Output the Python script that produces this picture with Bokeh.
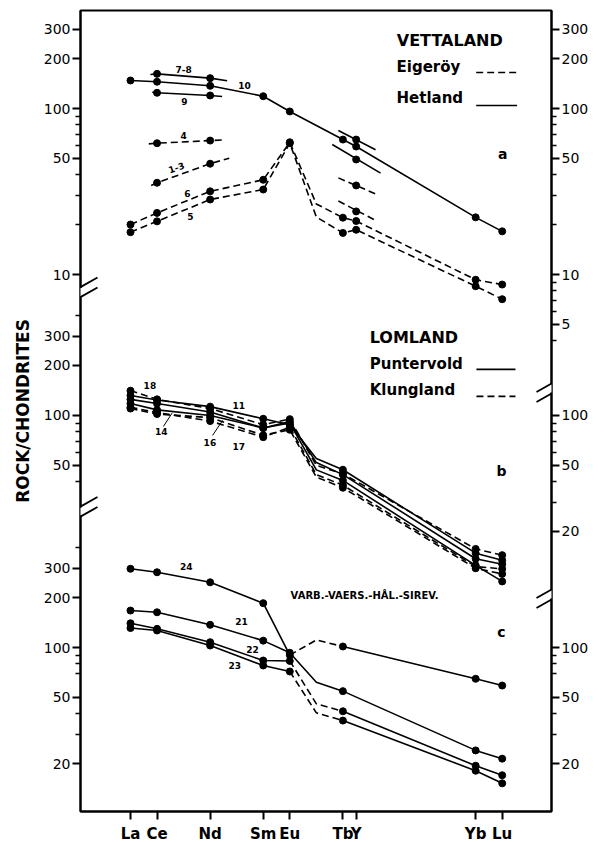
import math
from bokeh.plotting import figure
from bokeh.models import LinearAxis, FixedTicker, Range1d, Arrow
from bokeh.core.properties import value
from bokeh.embed import file_html
from bokeh.resources import INLINE

# ---------------- data ----------------
ELEMENTS = ["La", "Ce", "Nd", "Sm", "Eu", "Gd", "Tb", "Y", "Yb", "Lu"]
ELEMENT_X = [57, 58, 60, 62, 63, 64, 65, 65.5, 70, 71]
AXIS_ELEMENTS = ["La", "Ce", "Nd", "Sm", "Eu", "Tb", "Y", "Yb", "Lu"]

# vertical offset of each panel on the common log axis (decades)
PANEL_SHIFT = {"a": 0.0, "b": 1.849, "c": 3.247}

# Panel a  - VETTALAND (Hetland solid, Eigeroy dashed)
a_10 = [147.5, 145, 137, 118.6, 96, None, 65, 59, 22.1, 18.2]
a_6 = [20.0, 23.5, 31.7, 37.2, 62.6, 26.6, 22.0, 21.0, 9.3, 8.7]
a_5 = [18.0, 20.9, 28.3, 32.5, 61.8, 22.2, 17.8, 18.6, 8.5, 7.1]
# partial analyses: Ce, Nd values, ends of their short trend lines, Y value and its trend ends
a_78_ce_nd = [161.7, 152.4]
a_78_lree_ends = [160.3, 146.9]
a_78_y = 65.0
a_78_hree_ends = [73.7, 56.4]
a_9_ce_nd = [124.4, 119.8]
a_9_lree_ends = [125.4, 118.1]
a_9_y = 49.3
a_9_hree_ends = [60.7, 40.8]
a_4_ce_nd = [61.8, 64.1]
a_4_lree_ends = [61.2, 64.7]
a_4_y = 34.4
a_4_hree_ends = [38.2, 30.4]
a_13_ce_nd = [35.7, 46.5]
a_13_lree_ends = [34.4, 50.2]
a_13_y = 24.0
a_13_hree_ends = [27.7, 21.2]

# Panel b - LOMLAND (Puntervold solid, Klungland dashed)
b_18 = [141, 125, 110, 88, 95, 50, 44.5, None, 15.7, 14.4]
b_11 = [132, 124, 113, 95.5, 88, 55, 47.1, None, 14.8, 13.4]
b_12 = [125, 118, 105, 84, 92, 52, 44.0, None, 13.7, 12.7]
b_14 = [118, 108, 100, 84, 90, 47, 40.6, None, 12.5, 10.0]
b_16 = [112, 104, 92.5, 74, 85, 44, 38.0, None, 12.3, 11.9]
b_17 = [110, 102, 97, 76, 82, 42.5, 36.7, None, 12.0, 11.1]

# Panel c - VARB.-VAERS.-HAL.-SIREV.
c_24 = [298, 284, 247, 185, 90, 111, 101.4, None, 64.8, 59]
c_21 = [167, 163, 137, 110, 93, 61.8, 54.6, None, 24, 21.4]
c_22 = [140, 129.6, 107.6, 83.5, 83, 45.8, 41.3, None, 19.4, 17.0]
c_23 = [131, 126.6, 102.8, 77.9, 71.7, 40.4, 36.3, None, 18.1, 15.2]

# axis ticks per panel
LEFT_MAJOR = {"a": [300, 200, 100, 50, 10], "b": [300, 200, 100, 50], "c": [300, 200, 100, 50, 20]}
LEFT_MINOR = {"a": [90, 80, 70, 60, 40, 30, 20], "b": [400, 90, 80, 70, 60, 40], "c": [400, 90, 80, 70, 40, 30]}
RIGHT_MAJOR = {"a": [300, 200, 100, 50, 10, 5], "b": [100, 50, 20], "c": [100, 50, 20]}
RIGHT_MINOR = {"a": [90, 80, 70, 60, 40, 30, 20, 9, 8, 7, 6, 4], "b": [90, 80, 70, 60, 40, 30], "c": [90, 80, 70, 40, 30]}

# ---------------- helpers ----------------
PX_X = 26.55   # px per atomic-number unit
PX_U = 166.0   # px per decade


def U(v, panel):
    return round(math.log10(v) - PANEL_SHIFT[panel], 6)


def XE(name):
    return ELEMENT_X[ELEMENTS.index(name)]


FONT = value("DejaVu Sans")
DASH = "7 4"

p = figure(frame_width=471, frame_height=801,
           x_range=Range1d(55.117, 72.857), y_range=Range1d(-2.2349, 2.5904),
           x_axis_type=None, y_axis_type=None,
           output_backend="svg", toolbar_location=None,
           min_border_left=80, min_border_right=45, min_border_top=10, min_border_bottom=30,
           background_fill_color="white", border_fill_color="white")
p.outline_line_color = "black"
p.outline_line_width = 2


def style_axis(ax, size="14px", bold=False):
    ax.axis_line_width = 2
    ax.major_tick_line_width = 2
    ax.minor_tick_line_width = 1.5
    ax.major_tick_out = 8
    ax.major_tick_in = 0
    ax.minor_tick_out = 5
    ax.minor_tick_in = 0
    ax.major_label_text_font = "DejaVu Sans"
    ax.major_label_text_font_size = size
    ax.major_label_text_color = "black"
    ax.major_label_text_font_style = "bold" if bold else "normal"
    ax.major_label_standoff = 2


def y_axis(major, minor):
    ticks, labels, mins = [], {}, []
    for panel, vals in major.items():
        for v in vals:
            t = U(v, panel)
            ticks.append(t)
            labels[t] = str(v)
    for panel, vals in minor.items():
        for v in vals:
            mins.append(U(v, panel))
    ax = LinearAxis(ticker=FixedTicker(ticks=ticks, minor_ticks=mins), major_label_overrides=labels)
    style_axis(ax)
    return ax


left = y_axis(LEFT_MAJOR, LEFT_MINOR)
left.axis_label = "ROCK/CHONDRITES"
left.axis_label_text_font = "DejaVu Sans"
left.axis_label_text_font_size = "17px"
left.axis_label_text_font_style = "bold"
left.axis_label_text_color = "black"
left.axis_label_standoff = 8
p.add_layout(left, "left")
right = y_axis(RIGHT_MAJOR, RIGHT_MINOR)
p.add_layout(right, "right")

bx = [float(XE(e)) for e in AXIS_ELEMENTS]
bottom = LinearAxis(ticker=FixedTicker(ticks=bx, minor_ticks=[]),
                    major_label_overrides={x: e for x, e in zip(bx, AXIS_ELEMENTS)})
style_axis(bottom, size="15px", bold=True)
bottom.major_label_standoff = 5
p.add_layout(bottom, "below")


def draw_series(vals, panel, dashed, mid_dashed=None):
    pts = [(x, U(v, panel), e) for x, v, e in zip(ELEMENT_X, vals, ELEMENTS) if v is not None]
    mid = {"Eu", "Gd", "Tb"}
    segs = []
    for (x0, y0, e0), (x1, y1, e1) in zip(pts[:-1], pts[1:]):
        if mid_dashed is not None and e0 in mid and e1 in mid:
            d = mid_dashed
        else:
            d = dashed
        if segs and segs[-1][0] == d:
            segs[-1][1].append(x1)
            segs[-1][2].append(y1)
        else:
            segs.append([d, [x0, x1], [y0, y1]])
    for d, xs, ys in segs:
        p.line(xs, ys, line_color="black", line_width=1.6, line_dash=DASH if d else "solid")
    mk = [(x, y) for x, y, e in pts if e != "Gd"]
    p.scatter([m[0] for m in mk], [m[1] for m in mk], size=7, color="black")


def draw_partial(ce_nd, lree_ends, yv, hree_ends, panel, dashed, lree_x_ends, hree_x_ends):
    dash = DASH if dashed else "solid"
    xs = [lree_x_ends[0], XE("Ce"), XE("Nd"), lree_x_ends[1]]
    vs = [lree_ends[0], ce_nd[0], ce_nd[1], lree_ends[1]]
    p.line(xs, [U(v, panel) for v in vs], line_color="black", line_width=1.6, line_dash=dash)
    p.line(hree_x_ends, [U(v, panel) for v in hree_ends], line_color="black", line_width=1.6, line_dash=dash)
    p.scatter([XE("Ce"), XE("Nd"), XE("Y")], [U(ce_nd[0], panel), U(ce_nd[1], panel), U(yv, panel)],
              size=7, color="black")


# panel a
draw_series(a_10, "a", False)
draw_series(a_6, "a", True)
draw_series(a_5, "a", True)
draw_partial(a_78_ce_nd, a_78_lree_ends, a_78_y, a_78_hree_ends, "a", False, [57.75, 60.64], [64.83, 66.23])
draw_partial(a_9_ce_nd, a_9_lree_ends, a_9_y, a_9_hree_ends, "a", False, [57.82, 60.45], [64.60, 66.42])
draw_partial(a_4_ce_nd, a_4_lree_ends, a_4_y, a_4_hree_ends, "a", True, [57.69, 60.54], [64.83, 66.27])
draw_partial(a_13_ce_nd, a_13_lree_ends, a_13_y, a_13_hree_ends, "a", True, [57.78, 60.72], [64.83, 66.23])

# panel b
draw_series(b_18, "b", True)
draw_series(b_11, "b", False)
draw_series(b_12, "b", False)
draw_series(b_14, "b", False)
draw_series(b_16, "b", True)
draw_series(b_17, "b", True)

# panel c
draw_series(c_24, "c", False, mid_dashed=True)
draw_series(c_21, "c", False, mid_dashed=False)
draw_series(c_22, "c", False, mid_dashed=True)
draw_series(c_23, "c", False, mid_dashed=True)


def txt(x, v, panel, s, size="9px", bold=True, align="center", angle=0.0):
    p.text(x=[x], y=[U(v, panel)], text=[s], text_font=FONT, text_font_size=size,
           text_font_style="bold" if bold else "normal", text_align=align,
           text_baseline="middle", text_color="black", angle=angle)


# sample numbers
txt(59.0, 171.7, "a", "7-8")
txt(61.29, 137.6, "a", "10")
txt(59.03, 110.6, "a", "9")
txt(59.0, 68.7, "a", "4")
txt(58.73, 44.1, "a", "1-3", angle=0.33)
txt(59.14, 30.9, "a", "6")
txt(59.26, 22.4, "a", "5")
txt(57.73, 151.6, "b", "18")
txt(61.08, 114.9, "b", "11")
txt(58.16, 80.1, "b", "14")
txt(59.99, 69.1, "b", "16")
txt(61.08, 65.0, "b", "17")
txt(59.1, 307, "c", "24")
txt(61.18, 143, "c", "21")
txt(61.6, 96.9, "c", "22")
txt(60.93, 77.9, "c", "23")
# leader lines for 14 and 16
p.segment(x0=[58.24, 60.09], y0=[U(85.8, "b"), U(75.8, "b")], x1=[58.57, 60.47], y1=[U(103.5, "b"), U(93.3, "b")],
          line_color="black", line_width=1)

# panel letters
txt(71.02, 53.3, "a", "a", size="14px")
txt(70.97, 46.2, "b", "b", size="14px")
txt(70.97, 123.7, "c", "c", size="14px")

# group titles / legends
txt(67.03, 256.9, "a", "VETTALAND", size="16px", align="left")
txt(67.02, 177.3, "a", "Eigeröy", size="15px", align="left")
txt(67.02, 114.9, "a", "Hetland", size="15px", align="left")
p.line([70.02, 71.56], [U(164.9, "a")] * 2, line_color="black", line_width=1.6, line_dash=DASH)
p.line([70.02, 71.56], [U(104.3, "a")] * 2, line_color="black", line_width=1.6)
txt(66.01, 294, "b", "LOMLAND", size="16px", align="left")
txt(66.01, 204.6, "b", "Puntervold", size="15px", align="left")
txt(66.01, 141.4, "b", "Klungland", size="15px", align="left")
p.line([70.03, 71.5], [U(189.4, "b")] * 2, line_color="black", line_width=1.6)
p.line([70.03, 71.5], [U(130.2, "b")] * 2, line_color="black", line_width=1.6, line_dash=DASH)
txt(63.03, 205.7, "c", "VARB.-VAERS.-HÅL.-SIREV.", size="10px", align="left")

# axis break marks
X0, X1 = 55.117, 72.857


def break_mark(xa, yc_u):
    gap = 5 / PX_U
    p.add_layout(Arrow(end=None, x_start=xa, y_start=yc_u + 4 / PX_U, x_end=xa, y_end=yc_u - 4 / PX_U,
                       line_color="white", line_width=5))
    for off in (gap, -gap):
        p.add_layout(Arrow(end=None,
                           x_start=xa - 15 / PX_X, y_start=yc_u + off - 8.5 / PX_U,
                           x_end=xa + 17 / PX_X, y_end=yc_u + off + 9.5 / PX_U,
                           line_color="black", line_width=1.8))


break_mark(X0, 2 - (291.5 - 108) / PX_U)
break_mark(X0, 2 - (511 - 108) / PX_U)
break_mark(X1, 2 - (388 - 108) / PX_U)
break_mark(X1, 2 - (594 - 108) / PX_U)

open("out.html", "w").write(file_html(p, INLINE))
